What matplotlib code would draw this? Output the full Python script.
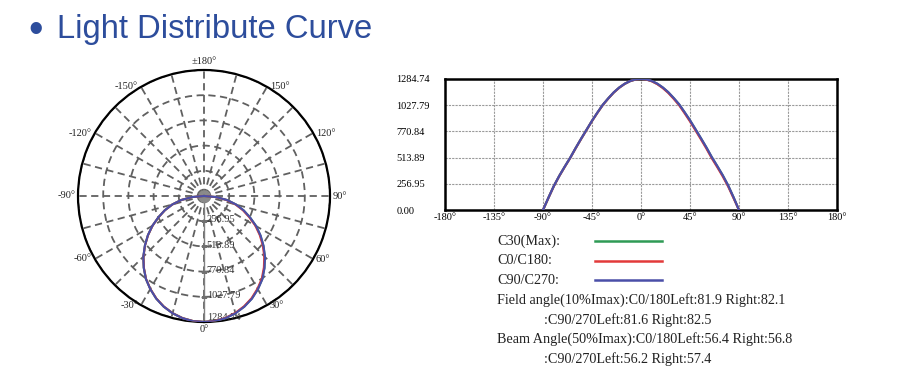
import numpy as np
import matplotlib
matplotlib.use("Agg")
import matplotlib.pyplot as plt

# ---------------- data ----------------
angles = [-90, -85, -80, -75, -70, -65, -60, -55, -50, -45, -40, -35, -30, -25, -20, -15, -10, -5,
          0, 5, 10, 15, 20, 25, 30, 35, 40, 45, 50, 55, 60, 65, 70, 75, 80, 85, 90]
c30_max = [0, 120, 236, 335, 425, 512, 607, 698, 786, 874, 955, 1032, 1095, 1153, 1200, 1237, 1264, 1280,
           1284.74, 1280, 1264, 1237, 1200, 1154, 1097, 1035, 958, 878, 791, 703, 613, 517, 430, 340, 240, 123, 0]
c0_c180 = [0, 119, 235, 334, 424, 511, 606, 697, 785, 873, 954, 1031, 1094, 1152, 1199, 1237, 1264, 1280,
           1284.74, 1279, 1262, 1234, 1196, 1149, 1091, 1028, 950, 869, 782, 694, 604, 508, 421, 331, 232, 117, 0]
c90_c270 = [0, 121, 237, 336, 426, 513, 608, 699, 787, 875, 956, 1033, 1096, 1154, 1201, 1238, 1265, 1281,
            1284.74, 1281, 1265, 1239, 1202, 1156, 1099, 1037, 960, 880, 793, 705, 615, 519, 432, 342, 242, 125, 0]

r_ticks = [256.95, 513.89, 770.84, 1027.79, 1284.74]
y_ticks = [0.00, 256.95, 513.89, 770.84, 1027.79, 1284.74]
x_ticks = [-180, -135, -90, -45, 0, 45, 90, 135, 180]
polar_label_angles = [0, 30, 60, 90, 120, 150, 180, 210, 240, 270, 300, 330]
polar_labels = ["0°", "30°", "60°", "90°", "120°", "150°", "±180°", "-150°", "-120°", "-90°", "-60°", "-30°"]

series_names = ["C30(Max):", "C0/C180:", "C90/C270:"]
series_colors = ["#2f9a55", "#e23a3a", "#4a4fa8"]
info_lines = [
    ("Field angle(10%Imax):C0/180Left:81.9 Right:82.1", False),
    (":C90/270Left:81.6 Right:82.5", True),
    ("Beam Angle(50%Imax):C0/180Left:56.4 Right:56.8", False),
    (":C90/270Left:56.2 Right:57.4", True),
]

SERIF = "Liberation Serif"
W, H = 897, 387
fig = plt.figure(figsize=(W / 100, H / 100), dpi=100)
fig.patch.set_facecolor("white")

def fx(px):
    return px / W

def fy(py):
    return 1 - py / H

# ---------------- title ----------------
title_color = "#2d4d9c"
fig.text(fx(28), fy(41.5), "•", fontsize=30, color=title_color, family="Liberation Sans", va="baseline")
fig.text(fx(57), fy(38), "Light Distribute Curve", fontsize=23.6, color=title_color,
         family="Liberation Sans", va="baseline")

# ---------------- polar ----------------
cx, cy, R = 204, 196, 126
axp = fig.add_axes([fx(cx - R), fy(cy + R), fx(2 * R), 2 * R / H], projection="polar")
axp.set_theta_zero_location("S")
axp.set_theta_direction(1)
rmax = r_ticks[-1]
axp.set_ylim(0, rmax)
spoke_angles = np.arange(0, 360, 15)
axp.set_xticks(np.deg2rad(spoke_angles))
axp.set_xticklabels([])
axp.set_yticks(r_ticks)
axp.set_yticklabels([])
axp.grid(True, color="#606060", linestyle=(0, (4, 2.5)), linewidth=1.3)
axp.spines["polar"].set_color("black")
axp.spines["polar"].set_linewidth(1.6)

for a, lab in zip(polar_label_angles, polar_labels):
    s = np.sin(np.deg2rad(a))
    c = np.cos(np.deg2rad(a))
    if abs(s) < 1e-6:
        ha = "center"
        va = "bottom" if c < 0 else "top"
        off = (0, 3 if c < 0 else -2)
    else:
        ha = "left" if s > 0 else "right"
        va = "center"
        off = (2 if s > 0 else -2, 0)
    axp.annotate(lab, xy=(np.deg2rad(a), rmax), xytext=off, textcoords="offset points",
                 ha=ha, va=va, family=SERIF, fontsize=7.5, color="#222222", annotation_clip=False)

th = np.deg2rad(angles)
# solid 0° spoke
axp.plot([0, 0], [0, rmax], color="#808080", lw=1.0, zorder=2)
for r in r_ticks[:-1]:
    axp.plot([0], [r], marker="_", ms=5, color="#707070", mew=1.0, zorder=2)
    axp.annotate(f"{r:.2f}", xy=(0, r), xytext=(2, 1), textcoords="offset points",
                 ha="left", va="center", family=SERIF, fontsize=7.5, color="#333333", zorder=3)
axp.annotate(f"{rmax:.2f}", xy=(0, rmax), xytext=(2, 3), textcoords="offset points",
             ha="left", va="center", family=SERIF, fontsize=7.5, color="#333333", zorder=3,
             annotation_clip=False)
axp.plot([0], [0], marker="o", ms=8, color="#8a8a8a", zorder=2)

for vals, col in zip([c30_max, c0_c180, c90_c270], series_colors):
    axp.plot(th, vals, color=col, lw=1.5, zorder=4)

# ---------------- cartesian ----------------
axc = fig.add_axes([fx(445), fy(210), fx(837 - 445), (210 - 79) / H])
for vals, col in zip([c30_max, c0_c180, c90_c270], series_colors):
    axc.plot(angles, vals, color=col, lw=1.6, zorder=3)
axc.set_xlim(-180, 180)
axc.set_ylim(0, y_ticks[-1])
axc.set_xticks(x_ticks)
axc.set_xticklabels([f"{v}°" for v in x_ticks], family=SERIF, fontsize=7.5)
axc.set_yticks(y_ticks)
axc.set_yticklabels([f"{v:.2f}" for v in y_ticks], family=SERIF, fontsize=7.5)
for t in axc.get_yticklabels():
    t.set_horizontalalignment("left")
axc.tick_params(axis="y", length=0, pad=35)
axc.tick_params(axis="x", length=0, pad=2)
axc.grid(True, color="#9a9a9a", linestyle=(0, (2, 1)), linewidth=0.8)
for s in axc.spines.values():
    s.set_linewidth(1.8)
    s.set_color("black")

# ---------------- legend / info text ----------------
y0, dy = 241, 19.7
for i, (name, col) in enumerate(zip(series_names, series_colors)):
    yy = y0 + i * dy
    fig.text(fx(497), fy(yy), name, family=SERIF, fontsize=10.15, va="center", color="#222222")
    fig.add_artist(plt.Line2D([fx(595), fx(662)], [fy(yy), fy(yy)], color=col, lw=1.8))
for j, (txt, indent) in enumerate(info_lines):
    yy = y0 + (3 + j) * dy
    fig.text(fx(544 if indent else 497), fy(yy), txt, family=SERIF, fontsize=10.15, va="center",
             color="#222222")

fig.savefig("out.png", dpi=100, facecolor="white")
